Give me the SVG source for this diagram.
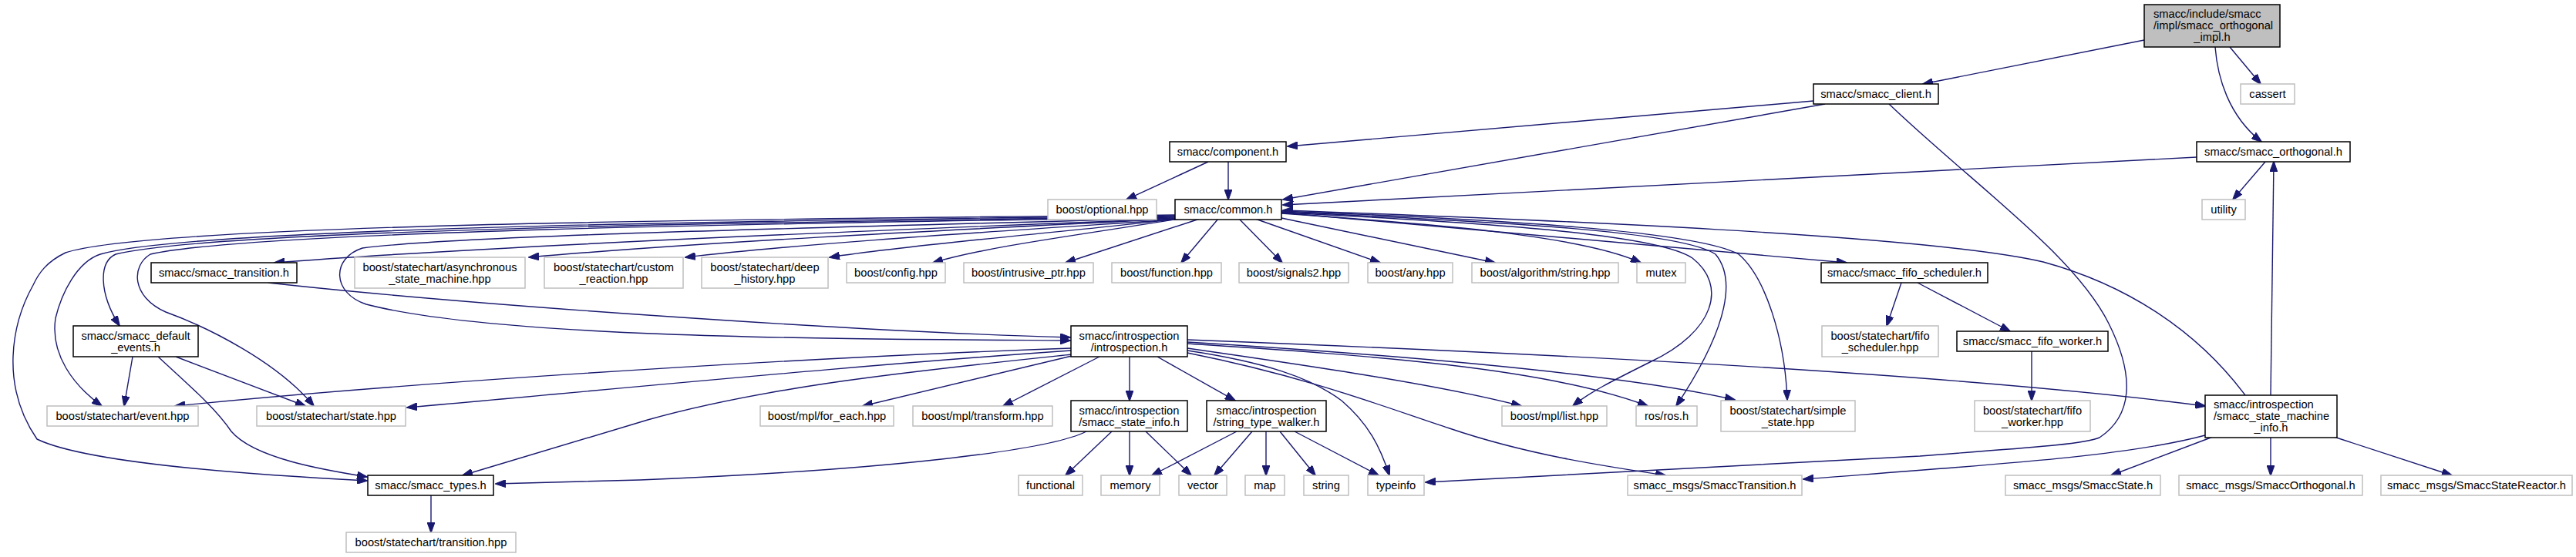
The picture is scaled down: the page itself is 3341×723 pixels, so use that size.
<svg xmlns="http://www.w3.org/2000/svg" width="3341" height="723" viewBox="0 0 3341 723">
<style>
.n rect{fill:#fff;stroke:#000;stroke-width:1.5}
.g rect{fill:#fff;stroke:#bfbfbf;stroke-width:1.5}
.r rect{fill:#bfbfbf;stroke:#000;stroke-width:1.5}
text{font-family:"Liberation Sans",Arial,sans-serif;font-size:14.7px;fill:#000;text-anchor:middle}
text.l{text-anchor:start}
#edges path{fill:none;stroke:#191970;stroke-width:1.4;marker-end:url(#a)}
</style>
<defs>
<marker id="a" markerWidth="14" markerHeight="10" refX="13" refY="5" orient="auto" markerUnits="userSpaceOnUse">
<path d="M0,0 L14,5 L0,10 z" fill="#191970" stroke="#191970" stroke-width="1"/>
</marker>
</defs>
<rect width="3341" height="723" fill="#fff"/>
<g id="edges">
<path d="M2781,52 L2494,109"/>
<path d="M2892,61 L2932,109"/>
<path d="M2873,61 C2876,100 2890,150 2933,184"/>
<path d="M2352,131 L1670,190"/>
<path d="M2367,135 L1664,259"/>
<path d="M2450,135 C2560,240 2690,330 2735,420 C2770,490 2765,540 2723,568 C2700,578 2600,583 2490,592 L1849,626"/>
<path d="M1567,210 L1461,259"/>
<path d="M1593,210 L1593,259"/>
<path d="M2938,210 L2896,259"/>
<path d="M2849,204 L1664,266"/>
<path d="M2945,513 L2949,210"/>
<path d="M2912,513 C2850,430 2760,370 2650,340 C2500,305 2000,285 1664,273"/>
<path d="M2870,567 L2738,617"/>
<path d="M2945,568 L2945,617"/>
<path d="M3027,567 L3180,617"/>
<path d="M2860,565 C2760,592 2600,602 2339,622"/>
<path d="M2466,367 L2447,423"/>
<path d="M2487,367 L2607,430"/>
<path d="M2635,456 L2635,520"/>
<path d="M1524,279 C1000,284 200,290 85,328 C60,340 50,355 43,370 C15,420 0,500 48,570 C110,600 300,615 476,624"/>
<path d="M1524,280 C1000,286 250,295 130,330 C100,340 80,380 72,413 C65,460 95,500 132,527"/>
<path d="M1524,281 C1000,288 280,298 150,330 C128,340 128,380 155,423"/>
<path d="M1524,282 C1000,290 330,300 195,330 C170,345 170,385 215,405 C270,425 360,470 407,527"/>
<path d="M1524,283 C1100,295 600,305 470,322 C430,335 430,380 475,395 C650,440 1100,440 1388,442"/>
<path d="M1524,284 C1100,300 600,322 356,341"/>
<path d="M1524,284 C1200,300 900,315 686,334"/>
<path d="M1524,285 C1300,300 1050,315 889,334"/>
<path d="M1527,284 C1400,300 1200,315 1076,334"/>
<path d="M1530,284 C1400,305 1280,320 1210,341"/>
<path d="M1556,284 L1382,341"/>
<path d="M1580,284 L1532,341"/>
<path d="M1607,284 L1663,341"/>
<path d="M1628,284 L1790,341"/>
<path d="M1662,283 L1939,341"/>
<path d="M1662,277 C1850,290 2050,305 2128,341"/>
<path d="M1662,276 L2395,341"/>
<path d="M1662,276 C1950,290 2150,305 2195,335 C2240,370 2225,430 2140,470 C2090,495 2060,510 2040,527"/>
<path d="M1662,275 C1950,288 2180,300 2225,330 C2250,360 2245,420 2174,527"/>
<path d="M1662,274 C1950,285 2200,300 2255,330 C2290,360 2315,440 2318,519"/>
<path d="M1389,452 C1100,462 600,490 227,527"/>
<path d="M1389,455 C1100,475 800,505 528,529"/>
<path d="M1390,460 C1200,480 1000,500 840,545 L600,617"/>
<path d="M1390,462 L1119,527"/>
<path d="M1426,463 L1301,527"/>
<path d="M1465,463 L1465,520"/>
<path d="M1501,463 L1602,520"/>
<path d="M1540,455 C1640,470 1700,490 1740,520 C1775,550 1790,580 1802,617"/>
<path d="M1540,452 C1700,475 1870,500 1973,527"/>
<path d="M1540,446 C1750,460 2000,475 2137,527"/>
<path d="M1540,444 C1800,460 2100,485 2250,519"/>
<path d="M1540,458 C1700,490 1800,530 1880,556 C1980,590 2080,605 2160,617"/>
<path d="M1540,441 C1900,455 2500,480 2860,527"/>
<path d="M1409,560 C1360,585 1150,610 830,623 L643,628"/>
<path d="M1442,560 L1382,617"/>
<path d="M1465,560 L1465,617"/>
<path d="M1486,560 L1545,617"/>
<path d="M1604,560 L1494,617"/>
<path d="M1624,560 L1575,617"/>
<path d="M1642,560 L1642,617"/>
<path d="M1660,560 L1706,617"/>
<path d="M1679,560 L1788,617"/>
<path d="M172,463 L161,527"/>
<path d="M228,463 L396,527"/>
<path d="M205,463 C245,500 280,530 300,560 C330,595 420,610 476,619"/>
<path d="M559,643 L559,691"/>
<path d="M348,367 C600,395 1100,430 1388,438"/>
</g>
<g id="n_top" class="r"><rect x="2781" y="6" width="176" height="55"/><text class="l" x="2793" y="23">smacc/include/smacc</text><text class="l" x="2793" y="38">/impl/smacc_orthogonal</text><text x="2869" y="53">_impl.h</text></g>
<g id="n_client" class="n"><rect x="2352" y="109" width="162" height="26"/><text x="2433" y="127">smacc/smacc_client.h</text></g>
<g id="n_cassert" class="g"><rect x="2906" y="109" width="70" height="26"/><text x="2941" y="127">cassert</text></g>
<g id="n_component" class="n"><rect x="1517" y="184" width="151" height="26"/><text x="1592.5" y="202">smacc/component.h</text></g>
<g id="n_orthogonal" class="n"><rect x="2849" y="184" width="199" height="26"/><text x="2948.5" y="202">smacc/smacc_orthogonal.h</text></g>
<g id="n_optional" class="g"><rect x="1359" y="259" width="141" height="26"/><text x="1429.5" y="277">boost/optional.hpp</text></g>
<g id="n_common" class="n"><rect x="1524" y="259" width="138" height="26"/><text x="1593" y="277">smacc/common.h</text></g>
<g id="n_utility" class="g"><rect x="2856" y="259" width="56" height="26"/><text x="2884" y="277">utility</text></g>
<g id="n_transition" class="n"><rect x="196" y="341" width="189" height="26"/><text x="290.5" y="359">smacc/smacc_transition.h</text></g>
<g id="n_async" class="g"><rect x="460" y="334" width="221" height="40"/><text x="570.5" y="351.5">boost/statechart/asynchronous</text><text x="570.5" y="366.5">_state_machine.hpp</text></g>
<g id="n_custom" class="g"><rect x="706" y="334" width="180" height="40"/><text x="796" y="351.5">boost/statechart/custom</text><text x="796" y="366.5">_reaction.hpp</text></g>
<g id="n_deep" class="g"><rect x="910" y="334" width="164" height="40"/><text x="992" y="351.5">boost/statechart/deep</text><text x="992" y="366.5">_history.hpp</text></g>
<g id="n_config" class="g"><rect x="1098" y="341" width="128" height="26"/><text x="1162" y="359">boost/config.hpp</text></g>
<g id="n_intrusive" class="g"><rect x="1250" y="341" width="168" height="26"/><text x="1334" y="359">boost/intrusive_ptr.hpp</text></g>
<g id="n_function" class="g"><rect x="1442" y="341" width="142" height="26"/><text x="1513" y="359">boost/function.hpp</text></g>
<g id="n_signals2" class="g"><rect x="1607" y="341" width="142" height="26"/><text x="1678" y="359">boost/signals2.hpp</text></g>
<g id="n_any" class="g"><rect x="1774" y="341" width="110" height="26"/><text x="1829" y="359">boost/any.hpp</text></g>
<g id="n_algstring" class="g"><rect x="1909" y="341" width="190" height="26"/><text x="2004" y="359">boost/algorithm/string.hpp</text></g>
<g id="n_mutex" class="g"><rect x="2123" y="341" width="63" height="26"/><text x="2154.5" y="359">mutex</text></g>
<g id="n_fifosched" class="n"><rect x="2362" y="341" width="216" height="26"/><text x="2470" y="359">smacc/smacc_fifo_scheduler.h</text></g>
<g id="n_defevents" class="n"><rect x="95" y="423" width="162" height="40"/><text x="176" y="440.5">smacc/smacc_default</text><text x="176" y="455.5">_events.h</text></g>
<g id="n_introspection" class="n"><rect x="1389" y="423" width="151" height="40"/><text x="1464.5" y="440.5">smacc/introspection</text><text x="1464.5" y="455.5">/introspection.h</text></g>
<g id="n_fifoschedhpp" class="g"><rect x="2363" y="423" width="151" height="40"/><text x="2438.5" y="440.5">boost/statechart/fifo</text><text x="2438.5" y="455.5">_scheduler.hpp</text></g>
<g id="n_fifoworker" class="n"><rect x="2538" y="430" width="196" height="26"/><text x="2636" y="448">smacc/smacc_fifo_worker.h</text></g>
<g id="n_event" class="g"><rect x="61" y="527" width="196" height="26"/><text x="159" y="545">boost/statechart/event.hpp</text></g>
<g id="n_state" class="g"><rect x="333" y="527" width="193" height="26"/><text x="429.5" y="545">boost/statechart/state.hpp</text></g>
<g id="n_foreach" class="g"><rect x="986" y="527" width="173" height="26"/><text x="1072.5" y="545">boost/mpl/for_each.hpp</text></g>
<g id="n_transform" class="g"><rect x="1184" y="527" width="181" height="26"/><text x="1274.5" y="545">boost/mpl/transform.hpp</text></g>
<g id="n_stateinfo" class="n"><rect x="1389" y="520" width="151" height="40"/><text x="1464.5" y="537.5">smacc/introspection</text><text x="1464.5" y="552.5">/smacc_state_info.h</text></g>
<g id="n_walker" class="n"><rect x="1565" y="520" width="155" height="40"/><text x="1642.5" y="537.5">smacc/introspection</text><text x="1642.5" y="552.5">/string_type_walker.h</text></g>
<g id="n_list" class="g"><rect x="1948" y="527" width="136" height="26"/><text x="2016" y="545">boost/mpl/list.hpp</text></g>
<g id="n_ros" class="g"><rect x="2122" y="527" width="79" height="26"/><text x="2161.5" y="545">ros/ros.h</text></g>
<g id="n_simplestate" class="g"><rect x="2232" y="520" width="174" height="40"/><text x="2319" y="537.5">boost/statechart/simple</text><text x="2319" y="552.5">_state.hpp</text></g>
<g id="n_fifoworkerhpp" class="g"><rect x="2561" y="520" width="150" height="40"/><text x="2636" y="537.5">boost/statechart/fifo</text><text x="2636" y="552.5">_worker.hpp</text></g>
<g id="n_smi" class="n"><rect x="2860" y="513" width="171" height="55"/><text class="l" x="2871" y="530">smacc/introspection</text><text class="l" x="2871" y="545">/smacc_state_machine</text><text x="2945.5" y="560">_info.h</text></g>
<g id="n_types" class="n"><rect x="477" y="617" width="163" height="26"/><text x="558.5" y="635">smacc/smacc_types.h</text></g>
<g id="n_functional" class="g"><rect x="1321" y="617" width="83" height="26"/><text x="1362.5" y="635">functional</text></g>
<g id="n_memory" class="g"><rect x="1428" y="617" width="76" height="26"/><text x="1466" y="635">memory</text></g>
<g id="n_vector" class="g"><rect x="1529" y="617" width="62" height="26"/><text x="1560" y="635">vector</text></g>
<g id="n_map" class="g"><rect x="1615" y="617" width="51" height="26"/><text x="1640.5" y="635">map</text></g>
<g id="n_string" class="g"><rect x="1691" y="617" width="58" height="26"/><text x="1720" y="635">string</text></g>
<g id="n_typeinfo" class="g"><rect x="1774" y="617" width="73" height="26"/><text x="1810.5" y="635">typeinfo</text></g>
<g id="n_smacctransition" class="g"><rect x="2111" y="617" width="226" height="26"/><text x="2224" y="635">smacc_msgs/SmaccTransition.h</text></g>
<g id="n_smaccstate" class="g"><rect x="2601" y="617" width="201" height="26"/><text x="2701.5" y="635">smacc_msgs/SmaccState.h</text></g>
<g id="n_smaccorth" class="g"><rect x="2826" y="617" width="238" height="26"/><text x="2945" y="635">smacc_msgs/SmaccOrthogonal.h</text></g>
<g id="n_smaccreactor" class="g"><rect x="3088" y="617" width="248" height="26"/><text x="3212" y="635">smacc_msgs/SmaccStateReactor.h</text></g>
<g id="n_transhpp" class="g"><rect x="449" y="691" width="220" height="26"/><text x="559" y="709">boost/statechart/transition.hpp</text></g>
</svg>
